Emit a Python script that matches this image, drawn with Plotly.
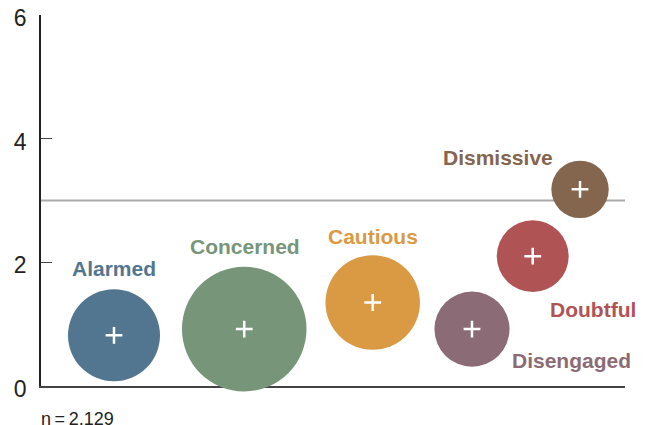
import plotly.graph_objects as go

segments = ["Alarmed", "Concerned", "Cautious", "Disengaged", "Doubtful", "Dismissive"]
x_pos = [1.25, 3.48, 5.68, 7.38, 8.42, 9.23]
y_vals = [0.82, 0.92, 1.35, 0.92, 2.10, 3.18]
shares = [18, 33, 19, 12, 11, 7]
colors = ["#537690", "#779679", "#DA9A44", "#8B6B75", "#B05355", "#84654D"]
reference_line = 3
y_ticks = [0, 2, 4, 6]

# label offsets (px) relative to bubble centres
label_shift = {
    "Alarmed": (0, 67),
    "Concerned": (1, 83),
    "Cautious": (0, 66),
    "Disengaged": (100, -31),
    "Doubtful": (60, -53),
    "Dismissive": (-82, 32),
}

fig = go.Figure()
fig.add_trace(go.Scatter(
    x=x_pos, y=y_vals, mode="markers",
    marker=dict(size=shares, sizemode="area", sizeref=18 / (2 * 46 ** 2),
                color=colors, opacity=1, line=dict(width=0)),
    cliponaxis=False, hoverinfo="skip", showlegend=False,
))
fig.add_trace(go.Scatter(
    x=x_pos, y=y_vals, mode="markers",
    marker=dict(symbol="cross-thin", size=12, line=dict(color="white", width=2.5)),
    cliponaxis=False, hoverinfo="skip", showlegend=False,
))

fig.add_shape(type="line", xref="paper", x0=0, x1=1, yref="y", y0=reference_line, y1=reference_line,
              line=dict(color="#AAAAAA", width=2), layer="below")

for name, xv, yv, col in zip(segments, x_pos, y_vals, colors):
    dx, dy = label_shift[name]
    fig.add_annotation(x=xv, y=yv, text=f"<b>{name}</b>", showarrow=False,
                       xshift=dx, yshift=dy, font=dict(size=21, color=col))

fig.add_annotation(xref="paper", yref="paper", x=-0.002, y=-0.058, xanchor="left", yanchor="top",
                   text="n\u2009=\u20092,129", showarrow=False, borderpad=0,
                   font=dict(size=18, color="#222222"))

# page body adds an 8px offset, so the figure is drawn slightly smaller
fig.update_layout(
    width=639, height=417,
    paper_bgcolor="white", plot_bgcolor="white",
    margin=dict(l=33, r=22, t=7, b=39, autoexpand=False),
    font=dict(family="Liberation Sans, Arial, sans-serif", color="#222222"),
)
fig.update_xaxes(range=[0, 10], showticklabels=False, ticks="", showgrid=False, zeroline=False,
                 showline=True, linecolor="#444444", linewidth=1.5, layer="below traces",
                 automargin=False)
fig.update_yaxes(range=[0, 6], tickvals=y_ticks, ticks="inside", ticklen=11, tickcolor="#444444",
                 showgrid=False, zeroline=False, showline=True, linecolor="#222222", linewidth=1.5,
                 tickfont=dict(size=23, color="#222222"), ticklabelstandoff=8, automargin=False,
                 ticklabeloverflow="allow", ticklabelshift=3)

fig.write_html("out.html")
